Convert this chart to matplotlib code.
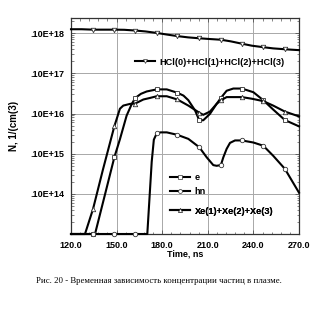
import numpy as np
import matplotlib
matplotlib.use("Agg")
import matplotlib.pyplot as plt
from matplotlib.ticker import FixedLocator, MultipleLocator, LogLocator, FuncFormatter, NullFormatter
from matplotlib.lines import Line2D

plt.rcParams['font.family'] = ['Liberation Sans', 'DejaVu Sans']

# times where the curve symbols are placed
marker_times = [134.5, 148.5, 162.3, 176.4, 190.0, 204.4, 218.6, 232.4, 246.5, 260.7]

# HCl(0)+HCl(1)+HCl(2)+HCl(3)
t_hcl = [120, 127, 134.5, 141, 148.5, 155, 162.3, 169, 176.4, 183, 190.0, 197, 204.4,
         211, 218.6, 225, 232.4, 239, 246.5, 253, 260.7, 265, 270]
n_hcl = [1.26e17, 1.26e17, 1.23e17, 1.23e17, 1.23e17, 1.22e17, 1.17e17, 1.11e17, 1.02e17,
         9.3e16, 8.5e16, 7.9e16, 7.5e16, 7.2e16, 6.9e16, 6.3e16, 5.5e16, 4.9e16, 4.5e16,
         4.2e16, 4.0e16, 3.9e16, 3.8e16]

# electrons
t_e = [120, 134.5, 135.8, 142, 148.5, 152.2, 156.6, 160, 162.3, 166, 169.8, 176.4, 183, 190.0,
       194, 197.2, 201.6, 204.4, 207, 211.4, 215.8, 218.6, 222.4, 226.8, 232.4, 240, 246.5, 253,
       260.7, 270]
n_e = [1e12, 1e12, 1e12, 8.5e12, 8.1e13, 2.3e14, 8.9e14, 1.74e15, 2.45e15, 3.1e15, 3.55e15,
       4.0e15, 4.0e15, 3.3e15, 2.8e15, 2.15e15, 1.2e15, 6.8e14, 6.8e14, 9.8e14, 1.74e15,
       2.45e15, 3.7e15, 4.2e15, 4.2e15, 3.4e15, 2.15e15, 1.26e15, 6.9e14, 4.8e14]

# photons
t_hn = [120, 134.5, 148.5, 162.3, 170.2, 173.1, 174.5, 176.4, 179, 183, 190.0, 197.2, 204.4,
        209.3, 213.6, 215.8, 218.6, 220.2, 222.4, 224.6, 227.9, 232.4, 240, 246.5, 253,
        260.7, 270]
n_hn = [1e12, 1e12, 1e12, 1e12, 1e12, 6.3e13, 2.24e14, 3.2e14, 3.4e14, 3.4e14, 2.95e14,
        2.34e14, 1.45e14, 8.1e13, 5.2e13, 5.0e13, 5.2e13, 8.1e13, 1.32e14, 1.86e14, 2.14e14,
        2.14e14, 1.9e14, 1.58e14, 8.9e13, 4.2e13, 1.07e13]

# Xe(1)+Xe(2)+Xe(3)
t_xe = [120, 129.2, 134.5, 141, 148.5, 152.2, 154.4, 158.8, 162.3, 167.6, 172, 176.4, 183,
        190.0, 197.2, 204.4, 207, 211.4, 215.8, 218.6, 222.4, 232.4, 239, 246.5, 253, 260.7, 270]
n_xe = [1e12, 1e12, 4.2e12, 4.0e13, 4.8e14, 1.32e15, 1.58e15, 1.74e15, 1.78e15, 2.24e15,
        2.45e15, 2.7e15, 2.7e15, 2.24e15, 1.58e15, 1.05e15, 9.3e14, 1.12e15, 1.74e15, 2.14e15,
        2.57e15, 2.57e15, 2.34e15, 2.04e15, 1.58e15, 1.12e15, 8.5e14]

x_ticks = [120, 150, 180, 210, 240, 270]
y_ticks = [1e13, 1e14, 1e15, 1e16, 1e17]

series = [
    (t_hcl, n_hcl, 'v', 'HCl(0)+HCl(1)+HCl(2)+HCl(3)'),
    (t_e, n_e, 's', 'e'),
    (t_hn, n_hn, 'o', 'hn'),
    (t_xe, n_xe, '^', 'Xe(1)+Xe(2)+Xe(3)'),
]

fig = plt.figure(figsize=(3.29, 3.34), dpi=100)
ax = fig.add_axes([71 / 329, 1 - 234 / 334, 228 / 329, 216 / 334])
ax.set_yscale('log')
ax.set_xlim(120, 270)
ax.set_ylim(1e12, 2.4e17)

handles = {}
for t, n, mk, lab in series:
    t = np.asarray(t, float)
    idx = [int(np.argmin(np.abs(t - m))) for m in marker_times]
    ln, = ax.plot(t, n, color='black', lw=1.5, marker=mk, markevery=idx, ms=3.2,
                  mfc='white', mec='#333333', mew=0.6, clip_on=False, zorder=3,
                  solid_joinstyle='round')
    handles[lab] = ln

ax.xaxis.set_major_locator(FixedLocator(x_ticks))
ax.xaxis.set_minor_locator(MultipleLocator(6))
ax.xaxis.set_major_formatter(FuncFormatter(lambda v, p: f"{v:.1f}"))
ax.yaxis.set_major_locator(FixedLocator(y_ticks))
ax.yaxis.set_minor_locator(LogLocator(base=10, subs=np.arange(2, 10), numticks=20))
ax.yaxis.set_minor_formatter(NullFormatter())


def sci_label(v, pos):
    e = int(round(np.log10(v)))
    return f".10E+{e + 1:02d}"


ax.yaxis.set_major_formatter(FuncFormatter(sci_label))
ax.grid(True, which='major', color='#a8a8a8', lw=0.7)
ax.set_axisbelow(True)
ax.tick_params(which='both', direction='in', top=True, right=True, color='#555555')
ax.tick_params(which='major', length=3, width=0.6, pad=5)
ax.tick_params(which='minor', length=1.8, width=0.5)
for lbl in ax.get_xticklabels() + ax.get_yticklabels():
    lbl.set_fontweight('bold')
    lbl.set_fontsize(6.5)
for sp in ax.spines.values():
    sp.set_linewidth(0.9)
    sp.set_color('#333333')

ax.set_xlabel('Time, ns', fontsize=6.5, fontweight='bold', labelpad=0)
ax.set_ylabel('N, 1/(cm(3)', fontsize=7, fontweight='bold')
ax.yaxis.set_label_coords(-0.23, 0.5)


def add_entry(lab, x, y):
    h = handles[lab]
    proxy = Line2D([], [], color='black', lw=1.5, marker=h.get_marker(), ms=2.8,
                   mfc='white', mec='#333333', mew=0.5)
    leg = ax.legend([proxy], [lab], loc='center left', bbox_to_anchor=(x, y),
                    frameon=False, borderpad=0, borderaxespad=0, handlelength=2.2,
                    handletextpad=0.5, numpoints=1,
                    prop={'size': 6.6, 'weight': 'bold'})
    ax.add_artist(leg)


add_entry('HCl(0)+HCl(1)+HCl(2)+HCl(3)', 0.281, 0.796)
add_entry('e', 0.434, 0.261)
add_entry('hn', 0.434, 0.197)
add_entry('Xe(1)+Xe(2)+Xe(3)', 0.434, 0.106)

fig.text(36 / 329, 1 - 281 / 334,
         'Рис. 20 - Временная зависимость концентрации частиц в плазме.',
         fontsize=6.3, family=['Liberation Serif', 'DejaVu Serif'], va='center', ha='left')

fig.savefig('out.png', dpi=100, facecolor='white')
